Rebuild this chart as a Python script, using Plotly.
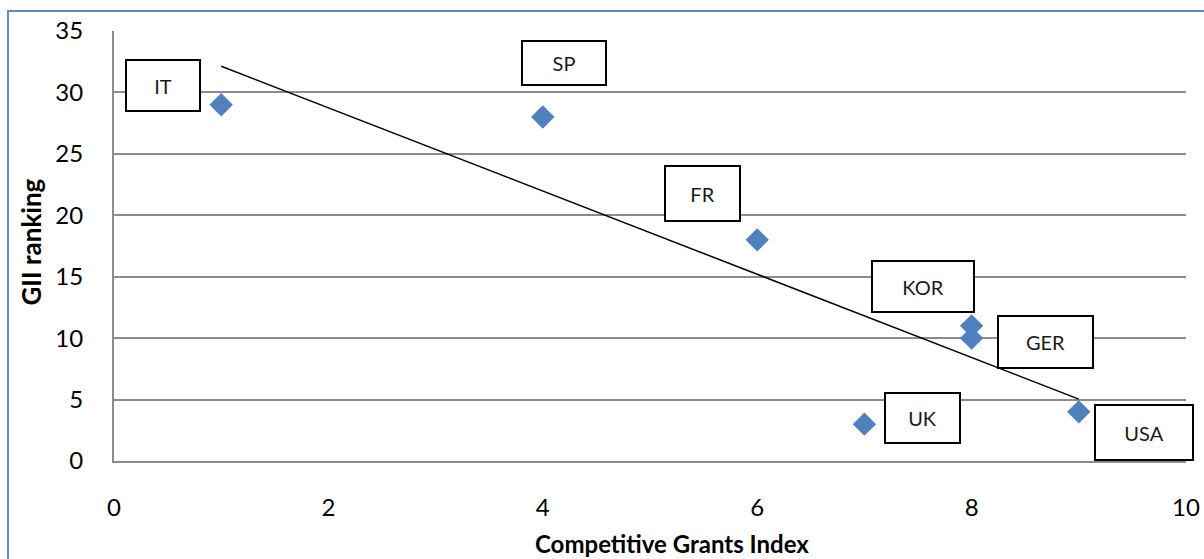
import numpy as np
import plotly.graph_objects as go

countries = ["IT", "SP", "FR", "KOR", "GER", "UK", "USA"]
grants_index = [1, 4, 6, 8, 8, 7, 9]
gii_ranking = [29, 28, 18, 11, 10, 3, 4]

x_ticks = [0, 2, 4, 6, 8, 10]
y_ticks = [0, 5, 10, 15, 20, 25, 30, 35]

# label box styling: (xshift, yshift, width, height) in pixels
label_style = {
    "IT": (-58, 19, 76, 53),
    "SP": (21, 54, 86, 46),
    "FR": (-55, 46, 77, 57),
    "KOR": (-49, 39, 104, 53),
    "GER": (74, -4, 97, 54),
    "UK": (58, 6, 77, 52),
    "USA": (65, -21, 100, 57),
}

FONT = "Lato"
BLUE = "#4F81BD"
GRID = "#8C8C8C"

slope, intercept = np.polyfit(grants_index, gii_ranking, 1)
tx = np.array([min(grants_index), max(grants_index)])
ty = slope * tx + intercept

fig = go.Figure()
fig.add_trace(go.Scatter(
    x=tx, y=ty, mode="lines",
    line=dict(color="black", width=1.5),
    hoverinfo="skip", showlegend=False,
))
fig.add_trace(go.Scatter(
    x=grants_index, y=gii_ranking, mode="markers",
    marker=dict(symbol="diamond", size=18, color=BLUE, line=dict(width=0)),
    text=countries, showlegend=False,
))

annotations = []
for c, xv, yv in zip(countries, grants_index, gii_ranking):
    xs, ys, w, h = label_style[c]
    annotations.append(dict(
        x=xv, y=yv, xref="x", yref="y", text=c, showarrow=False,
        xshift=xs, yshift=ys, width=w - 4, height=h - 4,
        bordercolor="black", borderwidth=2, borderpad=0, bgcolor="white",
        font=dict(family=FONT, size=20, color="#1a1a1a"),
        xanchor="center", yanchor="middle", align="center",
    ))

annotations.append(dict(
    text="<b>Competitive Grants Index</b>", xref="paper", yref="paper",
    x=0.5205, y=-0.193, showarrow=False, xanchor="center", yanchor="middle",
    font=dict(family=FONT, size=24, color="black"),
))
annotations.append(dict(
    text="<b>GII ranking</b>", xref="paper", yref="paper",
    x=-0.0774, y=0.508, showarrow=False, xanchor="center", yanchor="middle",
    textangle=-90, font=dict(family=FONT, size=26, color="black"),
))

fig.update_layout(
    width=1204, height=559, autosize=False,
    margin=dict(l=114, r=18, t=31, b=98, autoexpand=False),
    paper_bgcolor="white", plot_bgcolor="white",
    annotations=annotations,
    shapes=[dict(
        type="rect", xref="paper", yref="paper",
        x0=-0.0989, x1=1.03, y0=-0.25, y1=1.0465,
        line=dict(color="#5B8BC9", width=2), fillcolor="rgba(0,0,0,0)",
        layer="below",
    )],
    xaxis=dict(
        range=[0, 10], tickvals=x_ticks, showgrid=False, zeroline=False,
        showline=True, linecolor=GRID, linewidth=2, ticks="",
        ticklabelstandoff=24, automargin=False,
        tickfont=dict(family=FONT, size=24, color="black"),
    ),
    yaxis=dict(
        range=[0, 35], tickvals=y_ticks, showgrid=True, gridcolor=GRID,
        gridwidth=2, zeroline=False, showline=True, linecolor=GRID,
        linewidth=2, ticks="", ticklabelstandoff=24, automargin=False,
        tickfont=dict(family=FONT, size=24, color="black"),
    ),
)

fig.write_html("out.html", config={"displayModeBar": False})
